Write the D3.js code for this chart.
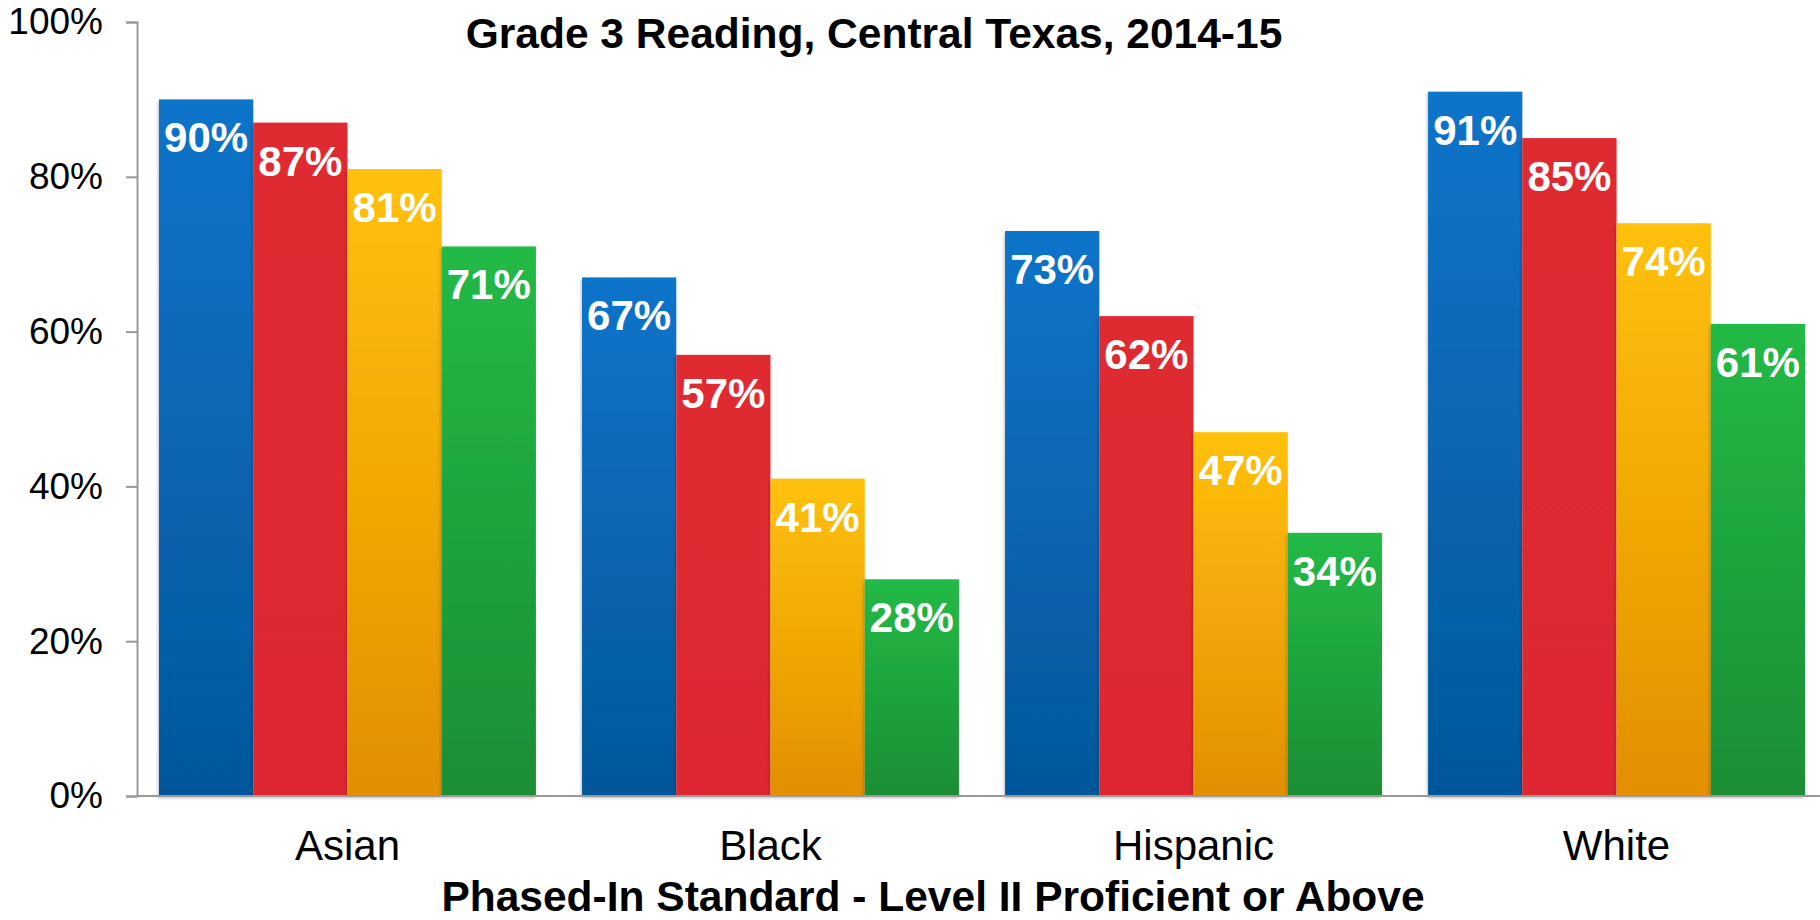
<!doctype html>
<html>
<head>
<meta charset="utf-8">
<script src="https://d3js.org/d3.v7.min.js"></script>
<style>
    body { margin: 0; background: #fff; }
    text { font-family: "Liberation Sans", Arial, sans-serif; }
    .ttl { font-weight: bold; }
</style>
</head>
<body>
<svg width="1820" height="920"></svg>
<script>
    // data
    var groups = ["Asian", "Black", "Hispanic", "White"];
    var seriesNames = ["s1", "s2", "s3", "s4"];
    var s1 = [90, 67, 73, 91];
    var s2 = [87, 57, 62, 85];
    var s3 = [81, 41, 47, 74];
    var s4 = [71, 28, 34, 61];
    var yTicks = [0, 20, 40, 60, 80, 100];
    var title = "Grade 3 Reading, Central Texas, 2014-15";
    var xTitle = "Phased-In Standard - Level II Proficient or Above";

    var colors = [
        ["#0874ca", "#06579a"],
        ["#df2a32", "#de2831"],
        ["#ffc107", "#e28f06"],
        ["#23ba46", "#1a8e35"]
    ];

    var svg = d3.select("svg");
    var plotLeft = 137, plotRight = 1820, plotTop = 22, plotBottom = 796;

    // band range runs a little past the right edge, like the original
    var x0 = d3.scaleBand().domain(groups).range([plotLeft, 1827]).paddingInner(0.109).paddingOuter(0.052);
    var x1 = d3.scaleBand().domain(seriesNames).range([0, x0.bandwidth()]);
    var y = d3.scaleLinear().domain([0, 100]).range([plotBottom, plotTop]);

    var defs = svg.append("defs");
    colors.forEach(function (c, i) {
        var gr = defs.append("linearGradient").attr("id", "g" + i)
            .attr("x1", 0).attr("y1", 0).attr("x2", 0).attr("y2", 1);
        gr.append("stop").attr("offset", "0%").attr("stop-color", c[0]);
        gr.append("stop").attr("offset", "100%").attr("stop-color", c[1]);
    });
    var sh = defs.append("filter").attr("id", "sh").attr("x", "-10%").attr("y", "-10%").attr("width", "120%").attr("height", "120%");
    sh.append("feDropShadow").attr("dx", -1).attr("dy", 2).attr("stdDeviation", 1.5).attr("flood-color", "#000").attr("flood-opacity", 0.25);

    var rows = groups.map(function (g, i) {
        return { group: g, vals: [s1[i], s2[i], s3[i], s4[i]] };
    });

    // bars
    var gGroups = svg.append("g").selectAll("g")
        .data(rows).enter().append("g")
        .attr("transform", function (d) { return "translate(" + x0(d.group) + ",0)"; });

    gGroups.selectAll("rect")
        .data(function (d) { return d.vals.map(function (v, j) { return { k: seriesNames[j], v: v, j: j }; }); })
        .enter().append("rect")
        .attr("x", function (d) { return x1(d.k); })
        .attr("y", function (d) { return y(d.v); })
        .attr("width", x1.bandwidth())
        .attr("height", function (d) { return plotBottom - y(d.v); })
        .attr("fill", function (d) { return "url(#g" + d.j + ")"; })
        .attr("filter", "url(#sh)");

    gGroups.selectAll("text")
        .data(function (d) { return d.vals.map(function (v, j) { return { k: seriesNames[j], v: v }; }); })
        .enter().append("text")
        .attr("x", function (d) { return x1(d.k) + x1.bandwidth() / 2; })
        .attr("y", function (d) { return y(d.v) + 53; })
        .attr("text-anchor", "middle")
        .attr("fill", "#fff")
        .attr("font-weight", "bold")
        .attr("font-size", "42px")
        .text(function (d) { return d.v + "%"; });

    // y axis
    var yAxis = svg.append("g")
        .attr("transform", "translate(" + plotLeft + ",0)")
        .call(d3.axisLeft(y).tickValues(yTicks).tickSize(11).tickPadding(23).tickFormat(function (d) { return d + "%"; }));
    yAxis.select(".domain").attr("stroke", "#999").attr("stroke-width", 2);
    yAxis.selectAll(".tick line").attr("stroke", "#999").attr("stroke-width", 2);
    yAxis.selectAll(".tick text").attr("font-size", "37px").attr("fill", "#000")
        .style("font-family", "'Liberation Sans', Arial, sans-serif");

    // x axis
    var xAxis = svg.append("g")
        .attr("transform", "translate(0," + plotBottom + ")")
        .call(d3.axisBottom(x0).tickSize(0).tickPadding(34));
    xAxis.select(".domain").attr("d", "M" + plotLeft + ",0H" + plotRight)
        .attr("stroke", "#999").attr("stroke-width", 2);
    xAxis.selectAll(".tick text").attr("font-size", "42px").attr("fill", "#000")
        .style("font-family", "'Liberation Sans', Arial, sans-serif");

    // titles
    svg.append("text").attr("class", "ttl")
        .attr("x", 874).attr("y", 48)
        .attr("text-anchor", "middle")
        .attr("font-size", "42.5px")
        .text(title);

    svg.append("text").attr("class", "ttl")
        .attr("x", 933).attr("y", 911)
        .attr("text-anchor", "middle")
        .attr("font-size", "42.5px")
        .text(xTitle);
</script>
</body>
</html>
